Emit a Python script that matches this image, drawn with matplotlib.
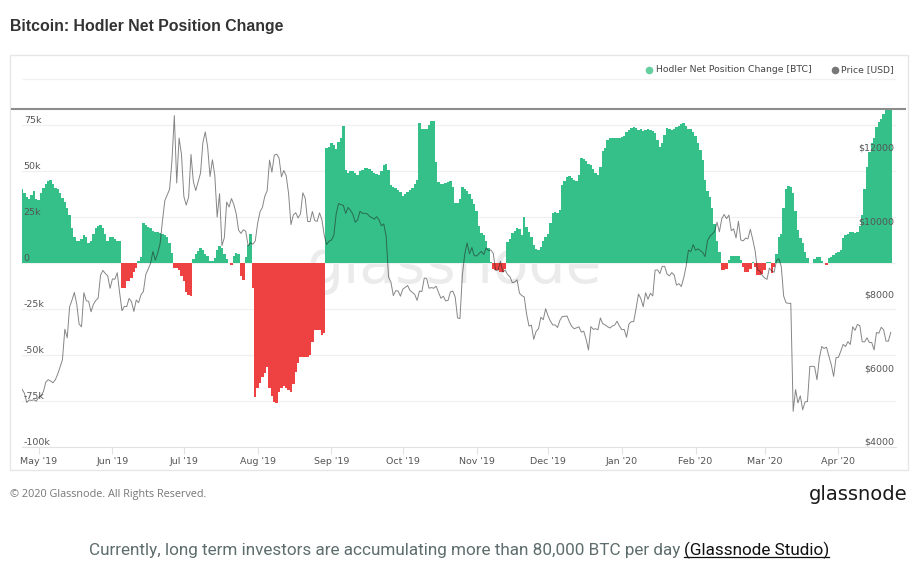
import numpy as np
import pandas as pd
import matplotlib
matplotlib.use("Agg")
import matplotlib.pyplot as plt
import matplotlib.dates as mdates
from matplotlib.lines import Line2D
from matplotlib.patches import Rectangle

# ---- data ----
start_date = "2019-04-24"

# hodler net position change, thousands of BTC per day
hodler_k = [
    40, 38, 36, 35, 37, 39, 35, 34, 38, 41,
    43, 44.5, 45, 43, 41, 40, 38, 35.5, 33, 30,
    26, 19, 14, 12, 12, 13, 15, 14, 11, 12,
    16, 19, 20, 20.5, 19, 16, 12, 14, 14, 13,
    12, 12, -13.6, -13.6, -10, -10, -8, -4.7, -2.5, 1,
    3, 21.6, 20.5, 19.5, 18.8, 17.5, 17, 17, 16.5, 16,
    15, 14, 11, 5.4, -2.5, -2.5, -4, -7, -10, -16,
    -17.5, -18, 2, 5, 6.5, 8, 7, 5, 3.6, 1,
    1, 2.5, 7, 9, 8, 5, 2, 0, -1, 4,
    5.5, 5, -7, -9, 3, 10, 16, -13.8, -73, -68,
    -65, -62, -60, -56.7, -68, -72.5, -75.4, -76.3, -70, -68,
    -67, -68, -69, -70, -66, -59, -54.6, -51, -51, -51,
    -51, -50, -43, -36.4, -36.4, -36.4, -39, -38, 62.3, 63,
    65, 64, 62, 66, 68, 74.6, 50.5, 49, 50, 50,
    49, 48, 50, 50.5, 51.4, 51.4, 51, 50, 49, 48.5,
    48, 50, 53, 54, 50.5, 42.4, 41.5, 41, 39.7, 38.4,
    36.6, 37.3, 38.4, 39.7, 41, 43, 45, 76, 73, 73,
    73, 75, 77, 77, 55, 44, 43, 43, 43.5, 44,
    44.5, 41.5, 32.4, 32.4, 35, 41.5, 40, 39, 37.3, 35,
    32, 28, 20, 16.5, 15, 12, 8, 0.5, -3, -4,
    -4, -5, -5, -3, 11.6, 13, 16.5, 17.4, 19, 18.5,
    15.2, 25, 19.7, 17, 14.3, 10, 7.6, 7, 8.5, 12,
    14, 16, 22, 27, 27.5, 27, 28.8, 42.4, 44.6, 47,
    47.5, 46.4, 45, 44.6, 47.8, 57, 56.5, 55.4, 54, 53,
    51, 49, 47.8, 52, 61, 62.7, 66.8, 67.7, 68, 68,
    68, 68, 68.6, 69, 71, 72.5, 73.5, 74, 73.2, 72.3,
    72.8, 71.7, 72.3, 72.8, 72.3, 71.7, 70.5, 66.8, 63.2, 65,
    69.5, 73.6, 72.8, 72.3, 72.8, 74, 74.6, 75.5, 75.9, 74.6,
    72.8, 73, 71.4, 69, 65, 61.4, 56, 45, 39, 36,
    30, 21, 12, 6, -4, -4, -3, 1.6, 4, 4,
    4, 4, 1.6, -2, -5, -5, -3, 0.5, -2, -6.5,
    -6.5, -6, -4, 0.3, 0.3, -5.5, -2, 5, 14.3, 16,
    30, 40, 42, 41.5, 38, 28, 18, 13.4, 10.7, 6.2,
    2.5, 0, 0, 2, 3, 3, 1, 0, -1, 2.5,
    3.4, 4.3, 5.2, 6, 7, 13.4, 15, 16, 16.7, 17,
    16.5, 17, 20, 26, 40, 52.4, 60.6, 65, 67.7, 74,
    76.7, 78.5, 81, 83, 86, 90,
]

# BTC price, USD
price_usd = [
    5572, 5465, 5211, 5279, 5268, 5285, 5247, 5351,
    5403, 5505, 5768, 5831, 5796, 5747, 5830, 5982, 6175, 6379, 7205, 6972, 7815, 7994, 8205, 7885,
    7344, 7271, 8198, 7978, 7963, 7680, 7882, 7987, 8053, 8673, 8806, 8720, 8659, 8319, 8575,
    8564, 8742, 8208, 7708, 7824, 7822, 8043, 7954, 7688, 8000, 7927, 8145, 8231, 8694, 8838,
    8994, 9320, 9082, 9274, 9527, 10144, 10701, 10856, 11012, 11790, 13017, 11183, 12407, 11960, 10817,
    10583, 10801, 11961, 11216, 10978, 11209, 11451, 12285, 12573, 12157, 11358, 11815, 11392, 10256,
    10895, 9478, 9694, 10667, 10531, 10760, 10599, 10344, 9901, 9812, 9912, 9870, 9477, 9553, 9520,
    9607, 10086,
    10400, 10519, 10822, 10971, 11806, 11479, 11942, 11967, 11862, 11354, 11523, 11383, 10896, 10052,
    10312, 10374, 10232, 10345, 10917, 10764, 10138, 10131, 10407, 10160, 10138, 10371, 10185, 9754,
    9510, 9599, 9631,
    9757, 10347, 10624, 10595, 10575, 10354, 10518, 10442, 10335, 10116, 10178, 10411, 10361, 10359,
    10347, 10276, 10241, 10199, 10267, 10182, 10019, 10070, 9730, 8621, 8487, 8119, 8252, 8246, 8104,
    8294,
    8344, 8394, 8260, 8206, 8151, 7988, 8246, 8228, 8596, 8587, 8321, 8336, 8321, 8375, 8206, 8048,
    8103, 7974, 7989, 8223, 8243, 8079, 7514, 7494, 8661, 9244, 9552, 9256, 9428, 9206, 9200,
    9262, 9324, 9236, 9413, 9343, 9361, 9267, 8804, 8813, 9056, 8757, 8816, 8692, 8633, 8472, 8491,
    8550, 8186, 8119, 8084, 7618, 7291, 7317, 6932, 7146, 7219, 7532, 7464, 7762, 7570,
    7425, 7322, 7321, 7253, 7448, 7547, 7556, 7564, 7401, 7279, 7217, 7243, 7269, 7124, 7152, 6932,
    6640, 7277, 7202, 7219, 7191, 7511, 7355, 7322, 7275, 7238, 7290, 7317, 7423, 7293, 7193,
    7200, 6985, 7345, 7411, 7411, 7769, 8164, 8038, 7818, 8197, 8020, 8184, 8110, 8811, 8821, 8720,
    8914, 8916, 8706, 8658, 8746, 8680, 8406, 8445, 8367, 8597, 8910, 9358, 9316, 9508, 9350,
    9392, 9345, 9293, 9180, 9613, 9729, 9795, 9865, 10116, 9856, 10208, 10327, 10214, 10312, 9889,
    9934, 9690, 10141, 9633, 9608, 9686, 9663, 9924, 9650, 9341, 8820, 8784, 8672, 8599,
    8562, 8869, 8787, 8755, 9078, 9122, 8909, 8108, 7923, 7909, 7911, 4970, 5563, 5200, 5392, 5014,
    5225, 5238, 6191, 6198, 6185, 5830, 6416, 6734, 6681, 6716, 6469, 6242, 5922, 6429, 6438,
    6607, 6793, 6733, 6867, 6791, 7271, 7176, 7335, 7302, 6865, 6859, 6971, 6845, 6842, 6642, 7116,
    7096, 7257, 7189, 6882, 6880, 7118,
]

left_ticks = [-100, -75, -50, -25, 0, 25, 50, 75]
left_labels = ["-100k", "-75k", "-50k", "-25k", "0", "25k", "50k", "75k"]
right_ticks = [4000, 6000, 8000, 10000, 12000]
right_labels = ["$4000", "$6000", "$8000", "$10000", "$12000"]

GREEN = "#35c08a"
RED = "#ee4242"
W, H = 918, 576

dates = pd.date_range(start_date, periods=len(hodler_k), freq="D")
vals = np.array(hodler_k) * 1000
xnum = mdates.date2num(dates)
edges = np.append(xnum - 0.5, xnum[-1] + 0.5)

fig = plt.figure(figsize=(W / 100, H / 100), dpi=100)
fig.patch.set_facecolor("white")

def fx(px):
    return px / W

def fy(py):
    return 1 - py / H

# card border
fig.patches.append(Rectangle((fx(10), fy(470)), fx(898), 415 / H, transform=fig.transFigure,
                             fill=False, edgecolor="#e6e6e6", linewidth=1))

ax = fig.add_axes([fx(22), fy(447), fx(874), 338 / H])
ax.patch.set_visible(False)
# daily columns as one step area per sign, so neighbouring days show no seams
ax.stairs(np.where(vals > 0, vals, 0), edges, baseline=0, fill=True, color=GREEN, zorder=2)
ax.stairs(np.where(vals < 0, vals, 0), edges, baseline=0, fill=True, color=RED, zorder=2)
ax.set_ylim(-100000, 83700)
ax.set_xlim(xnum[0], xnum[0] + 367.2)
ax.set_yticks([t * 1000 for t in left_ticks])
ax.tick_params(axis="y", length=0, labelleft=False)
ax.grid(axis="y", color="#f0f0f0", linewidth=0.9, zorder=0)
for s in ["top", "left", "right"]:
    ax.spines[s].set_visible(False)
ax.spines["bottom"].set_color("#e2e2e2")
ax.xaxis.set_major_locator(mdates.MonthLocator())
ax.xaxis.set_major_formatter(mdates.DateFormatter("%b '%y"))
ax.tick_params(axis="x", length=5, color="#e2e2e2", labelsize=6.8, labelcolor="#555555", pad=2)
for t, lab in zip(left_ticks, left_labels):
    ax.text(0.002, t * 1000, lab, transform=ax.get_yaxis_transform(), ha="left", va="bottom",
            fontsize=6.8, color="#555555", zorder=5)

# watermark behind the bars
ax.text(fx(455), fy(283), "glassnode", transform=fig.transFigure, ha="center", va="baseline",
        fontsize=42, color="#ebebeb", zorder=1)

ax2 = ax.twinx()
ax2.plot(dates, price_usd, color="#222222", alpha=0.55, linewidth=0.7, zorder=3)
ax2.set_ylim(4000, 13197)
ax2.set_yticks([])
for s in ax2.spines.values():
    s.set_visible(False)
for t, lab in zip(right_ticks, right_labels):
    ax2.text(0.998, t, lab, transform=ax2.get_yaxis_transform(), ha="right", va="bottom",
             fontsize=6.8, color="#555555")

# lines above the plot
fig.lines.append(Line2D([fx(12), fx(905)], [fy(109), fy(109)], transform=fig.transFigure,
                        color="#8c8c8c", linewidth=1.5))
fig.lines.append(Line2D([fx(23), fx(895)], [fy(79), fy(79)], transform=fig.transFigure,
                        color="#f0f0f0", linewidth=0.9))

# legend
fig.lines.append(Line2D([fx(649)], [fy(70)], transform=fig.transFigure, marker="o", markersize=4.5,
                        color="#66cf9f", linestyle="none"))
fig.text(fx(656), fy(70), "Hodler Net Position Change [BTC]", ha="left", va="center",
         fontsize=6.7, color="#444444")
fig.lines.append(Line2D([fx(835)], [fy(70)], transform=fig.transFigure, marker="o", markersize=4.5,
                        color="#777777", linestyle="none"))
fig.text(fx(841), fy(70), "Price [USD]", ha="left", va="center", fontsize=6.7, color="#444444")

# title and footer
fig.text(fx(10), fy(26), "Bitcoin: Hodler Net Position Change", ha="left", va="center",
         fontsize=11.4, fontweight="bold", color="#333333", family="Liberation Sans")
fig.text(fx(10), fy(495), "\u00a9 2020 Glassnode. All Rights Reserved.", ha="left", va="center",
         fontsize=7.8, color="#777777", family="Open Sans")
fig.text(fx(907), fy(495), "glassnode", ha="right", va="center", fontsize=14,
         color="#1a1a1a", family="DejaVu Sans")

cap_main = "Currently, long term investors are accumulating more than 80,000 BTC per day"
cap_link = "(Glassnode Studio)"
cap_font = ["Liberation Sans Narrow", "Roboto"]
r = fig.canvas.get_renderer()
t1 = fig.text(0, fy(550), cap_main, ha="left", va="center", fontsize=12, color="#5e6d6d",
              family=cap_font)
t2 = fig.text(0, fy(550), cap_link, ha="left", va="center", fontsize=12, color="#111111",
              family=cap_font)
w1 = t1.get_window_extent(r).width
w2 = t2.get_window_extent(r).width
gap = 4
scale = 742 / (w1 + w2 + gap)
t1.set_fontsize(12 * scale)
t2.set_fontsize(12 * scale)
w1 = t1.get_window_extent(r).width
w2 = t2.get_window_extent(r).width
start = (W - (w1 + w2 + gap)) / 2
t1.set_x(fx(start))
t2.set_x(fx(start + w1 + gap))
bb = t2.get_window_extent(r)
fig.lines.append(Line2D([bb.x0 / W, bb.x1 / W], [(bb.y0 + 1.5) / H] * 2, transform=fig.transFigure,
                        color="#111111", linewidth=0.9))

fig.savefig("out.png", dpi=100, facecolor="white")
